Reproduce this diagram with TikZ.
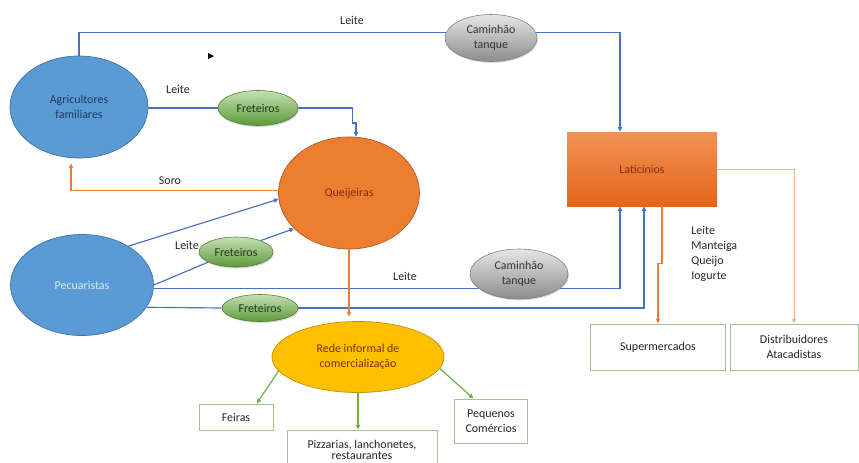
\documentclass[tikz,border=0pt]{standalone}
\usepackage{fontspec}
\setmainfont{Carlito}
\usetikzlibrary{arrows.meta,calc,shapes.geometric,shadows}

\definecolor{azulCl}{HTML}{5B9BD5}
\definecolor{azulEsc}{HTML}{41719C}
\definecolor{azulTxt}{HTML}{1F3864}
\definecolor{azulBranco}{HTML}{DDEBF7}
\definecolor{linhaAzul}{HTML}{4472C4}
\definecolor{laranja}{HTML}{ED7D31}
\definecolor{laranjaEsc}{HTML}{B35A1F}
\definecolor{laranjaCl}{HTML}{F4B183}
\definecolor{laranjaTopo}{HTML}{F29256}
\definecolor{laranjaBase}{HTML}{E2661A}
\definecolor{marromTxt}{HTML}{7F2E0C}
\definecolor{ouro}{HTML}{FFC000}
\definecolor{ouroEsc}{HTML}{BF9000}
\definecolor{verdeCl}{HTML}{C5E0B4}
\definecolor{verdeMed}{HTML}{5E9A3A}
\definecolor{verdeEsc}{HTML}{507E32}
\definecolor{verdeTxt}{HTML}{1E3A10}
\definecolor{verdeSeta}{HTML}{70AD47}
\definecolor{verdeBox}{HTML}{A9C08C}
\definecolor{cinzaCl}{HTML}{E6E6E6}
\definecolor{cinzaMed}{HTML}{8C8C8C}
\definecolor{cinzaEsc}{HTML}{7F7F7F}
\definecolor{cinzaTxt}{HTML}{333333}
\definecolor{rotuloTxt}{HTML}{262626}

\begin{document}
\begin{tikzpicture}[x=0.03cm,y=-0.03cm,font=\fontsize{10.2}{12.8}\selectfont]

	\tikzset{
	  ator/.style={ellipse,draw=azulEsc,fill=azulCl,line width=0.6pt,inner sep=0pt,align=center},
	  queijo/.style={ellipse,draw=laranjaEsc,fill=laranja,line width=0.6pt,inner sep=0pt,text=marromTxt},
	  informal/.style={ellipse,draw=ouroEsc,fill=ouro,line width=0.6pt,inner sep=0pt,align=center,text=marromTxt},
	  industria/.style={rectangle,top color=laranjaTopo,bottom color=laranjaBase,inner sep=0pt,text=marromTxt},
	  frete/.style={ellipse,draw=verdeEsc,top color=verdeCl,bottom color=verdeMed,line width=0.5pt,inner sep=0pt,
	    text=verdeTxt,drop shadow={opacity=0.3,shadow xshift=0.8pt,shadow yshift=-1.2pt}},
	  tanque/.style={ellipse,draw=cinzaEsc,top color=cinzaCl,bottom color=cinzaMed,line width=0.5pt,inner sep=0pt,
	    align=center,text=cinzaTxt,drop shadow={opacity=0.3,shadow xshift=0.8pt,shadow yshift=-1.2pt}},
	  destino/.style={rectangle,draw=verdeBox,line width=0.8pt,fill=white,inner sep=0pt,align=center,text=rotuloTxt},
	  rotulo/.style={text=rotuloTxt,inner sep=1pt},
	  fluxo/.style={draw=linhaAzul,line width=1pt},
	  soro/.style={draw=laranja,line width=1pt},
	  venda/.style={draw=laranjaCl,line width=0.8pt},
	  varejo/.style={draw=verdeSeta,line width=1pt},
	  seta/.style={-{Triangle[length=4pt,width=3.6pt]}},
	}
	\useasboundingbox (0,0) rectangle (859,462);
	\clip (0,0) rectangle (859,462);

	\node[ator,minimum width=4.14cm,minimum height=3.06cm,text=azulTxt] (agr) at (79,107) {Agricultores\\familiares};
	\node[ator,minimum width=4.29cm,minimum height=3.03cm,text=azulBranco] (pec) at (82,285) {Pecuaristas};
	\node[queijo,minimum width=4.23cm,minimum height=3.36cm] (que) at (349,193) {Queijeiras};
	\node[informal,minimum width=5.16cm,minimum height=2.13cm] (rede) at (358,357) {Rede informal de\\comercialização};
	\node[industria,minimum width=4.5cm,minimum height=2.22cm] (lat) at (642,169) {Laticínios};

	\node[tanque,minimum width=2.76cm,minimum height=1.41cm] (cam1) at (491,38) {Caminhão\\tanque};
	\node[tanque,minimum width=2.94cm,minimum height=1.5cm] (cam2) at (519,274) {Caminhão\\tanque};
	\node[frete,minimum width=2.4cm,minimum height=1.05cm] (fre1) at (258,108) {Freteiros};
	\node[frete,minimum width=2.22cm,minimum height=0.9cm] (fre2) at (236,252) {Freteiros};
	\node[frete,minimum width=2.28cm,minimum height=0.81cm] (fre3) at (260,308) {Freteiros};

	\node[destino,minimum width=4.05cm,minimum height=1.38cm] (sup) at (658,347) {Supermercados};
	\node[destino,minimum width=3.84cm,minimum height=1.38cm] (dist) at (794,347) {Distribuidores\\Atacadistas};
	\node[destino,minimum width=2.22cm,minimum height=0.78cm] (fei) at (236,417) {Feiras};
	\node[destino,minimum width=4.5cm,minimum height=1.2cm] (piz) at (362,450) {Pizzarias, lanchonetes,\\[-2.8pt]restaurantes};
	\node[destino,minimum width=2.19cm,minimum height=1.32cm] (peq) at (491,421) {Pequenos\\Comércios};

	\node[rotulo] (leite1) at (352,20) {Leite};
	\node[rotulo] (leite2) at (178,89) {Leite};
	\node[rotulo] (soroTxt) at (170,181) {Soro};
	\node[rotulo] (leite3) at (187,245) {Leite};
	\node[rotulo] (leite4) at (405,276) {Leite};
	\node[rotulo,align=left,anchor=west] (produtos) at (690,254) {Leite\\Manteiga\\Queijo\\Iogurte};

	\fill (208,53) -- (214,56) -- (208,59) -- cycle;

	\draw[fluxo] (agr.north) |- (cam1.173);
	\draw[fluxo,seta] (cam1.7) -| ($(lat.north)+(-22,0)$);
	\draw[fluxo] (agr.east |- fre1.west) -- (fre1.west);
	\draw[fluxo,seta] (fre1.east) -- ++(54,0) -- ++(0,15) -| ($(que.north)+(7,0)$);
	\draw[soro,seta] (que.178) -| ($(agr.south)+(-8,5)$);
	\draw[fluxo,seta] (pec.40) -- (que.185);
	\draw[fluxo] (pec.east) -- (fre2.200);
	\draw[fluxo,seta] (fre2.25) -- (que.213);
	\draw[fluxo] (pec.east |- cam2.199) -- (cam2.199);
	\draw[fluxo,seta] (cam2.-19) -| ($(lat.south)+(-22,0)$);
	\draw[fluxo] (pec.-19) -- (fre3.west);
	\draw[fluxo,seta] (fre3.east) -| ($(lat.south)+(2,0)$);
	\draw[soro,seta] ($(lat.south)+(20,0)$) -- ++(0,57) -| (sup.north);
	\draw[venda,seta] (lat.east) -| (dist.north);
	\draw[soro,seta,shorten >=4pt] (que.south) -- (que.south |- rede.north);
	\draw[varejo,seta] (rede.190) -- (fei.33);
	\draw[varejo,seta] (rede.south) -- (rede.south |- piz.north);
	\draw[varejo,seta] (rede.-8) -- (peq.128);

\end{tikzpicture}
\end{document}
